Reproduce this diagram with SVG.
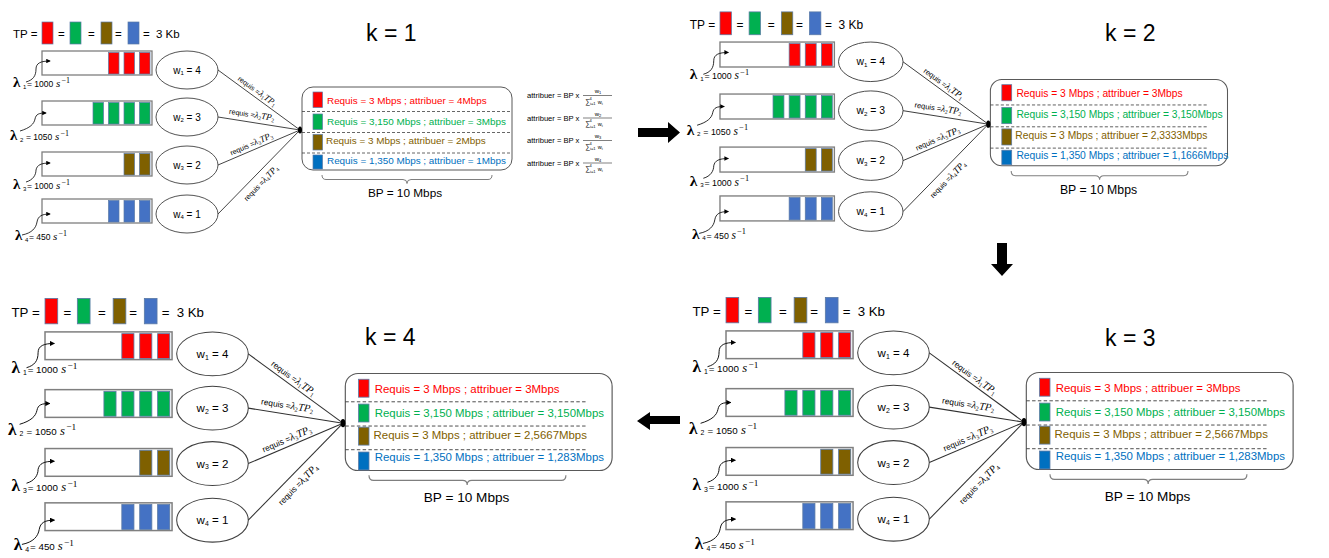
<svg xmlns="http://www.w3.org/2000/svg" width="1329" height="558" viewBox="0 0 1329 558">
<style>
.t{font-family:"Liberation Sans",Arial,sans-serif;fill:#000}
.m{font-family:"Liberation Serif","Times New Roman",serif;font-style:italic}
.mu{font-family:"Liberation Serif","Times New Roman",serif;font-style:normal}
.lam{font-family:"Liberation Serif","Times New Roman",serif;font-weight:bold;font-size:15px}
.q{fill:#fff;stroke:#7f7f7f;stroke-width:1.3}
.blk{stroke:#5b7aa6;stroke-width:0.7}
.r{fill:#FF0000}.g{fill:#00B050}.b{fill:#7F6000}.u{fill:#4472C4}.u2{fill:#0070C0}
.ell{fill:#fff;stroke:#404040;stroke-width:0.9}
.ln{stroke:#303030;stroke-width:0.9;fill:none}
.cv{stroke:#000;stroke-width:0.8;fill:none}
.box{fill:#fff;stroke:#595959;stroke-width:1}
.dash{stroke:#404040;stroke-width:0.8;stroke-dasharray:3 2}
.brace{stroke:#7f7f7f;stroke-width:1;fill:none}
.rt{font-family:"Liberation Sans",Arial,sans-serif;font-size:9.9px}
.cr{fill:#FF0000}.cg{fill:#00B050}.cb{fill:#7F6000}.cu{fill:#0070C0}
.big{font-family:"Liberation Sans",Arial,sans-serif;font-size:23px;fill:#000}
</style>
<defs>
<marker id="ah" viewBox="0 0 6 6" refX="5" refY="3" markerWidth="4.5" markerHeight="4.5" markerUnits="userSpaceOnUse" orient="auto"><path d="M0,0 L6,3 L0,6 z" fill="#000"/></marker>
</defs>

<!-- ===================== PANEL k=1 ===================== -->
<g id="p1" transform="translate(0,0) scale(1)">
 <g id="p1-legend" class="t" font-size="11.5">
  <text x="13" y="38">TP =</text>
  <rect x="42" y="22" width="11" height="22" class="r blk"/>
  <text x="58" y="38">=</text>
  <rect x="70" y="22" width="11" height="22" class="g blk"/>
  <text x="88" y="38">=</text>
  <rect x="101" y="22" width="11" height="22" class="b blk"/>
  <text x="115" y="38">=</text>
  <rect x="128" y="22" width="11" height="22" class="u blk"/>
  <text x="143" y="38">=</text><text x="156" y="38">3 Kb</text>
 </g>
 <g id="p1-q1"><rect class="q" x="42" y="51" width="110" height="24"/><rect class="r blk" x="108.5" y="52.5" width="10.5" height="21.5"/><rect class="r blk" x="124" y="52.5" width="10.5" height="21.5"/><rect class="r blk" x="139.5" y="52.5" width="10.5" height="21.5"/></g>
 <g id="p1-q2"><rect class="q" x="42" y="101" width="110" height="24"/><rect class="g blk" x="93" y="102.5" width="10.5" height="21.5"/><rect class="g blk" x="108.5" y="102.5" width="10.5" height="21.5"/><rect class="g blk" x="124" y="102.5" width="10.5" height="21.5"/><rect class="g blk" x="139.5" y="102.5" width="10.5" height="21.5"/></g>
 <g id="p1-q3"><rect class="q" x="42" y="152" width="110" height="24"/><rect class="b blk" x="124" y="153.5" width="10.5" height="21.5"/><rect class="b blk" x="139.5" y="153.5" width="10.5" height="21.5"/></g>
 <g id="p1-q4"><rect class="q" x="42" y="199" width="110" height="24"/><rect class="u blk" x="108.5" y="200.5" width="10.5" height="21.5"/><rect class="u blk" x="124" y="200.5" width="10.5" height="21.5"/><rect class="u blk" x="139.5" y="200.5" width="10.5" height="21.5"/></g>
 <g id="p1-l1"><path class="cv" d="M26 82 C33 80 36 76 36 69 C36 63 41 61 50 61" marker-end="url(#ah)"/><text class="t" y="87"><tspan x="13" class="lam">λ</tspan><tspan x="23" dy="1.5" font-size="6">1</tspan><tspan x="27" dy="-1.5" font-size="8.5">= 1000</tspan><tspan x="56" class="m" font-size="11">s</tspan><tspan x="61.5" dy="-4" class="mu" font-size="8">−1</tspan></text></g>
 <g id="p1-l2"><path class="cv" d="M20 131 C30 128 34 124 35 119 C36 114 39 113 46 113" marker-end="url(#ah)"/><text class="t" y="140"><tspan x="10" class="lam">λ</tspan><tspan x="20" dy="1.5" font-size="6">2</tspan><tspan x="26" dy="-1.5" font-size="8.5">= 1050</tspan><tspan x="55" class="m" font-size="11">s</tspan><tspan x="60.5" dy="-4" class="mu" font-size="8">−1</tspan></text></g>
 <g id="p1-l3"><path class="cv" d="M26 182 C33 180 36 175 36 170 C37 165 41 163 50 163" marker-end="url(#ah)"/><text class="t" y="189"><tspan x="13" class="lam">λ</tspan><tspan x="23" dy="1.5" font-size="6">3</tspan><tspan x="27" dy="-1.5" font-size="8.5">= 1000</tspan><tspan x="56" class="m" font-size="11">s</tspan><tspan x="61.5" dy="-4" class="mu" font-size="8">−1</tspan></text></g>
 <g id="p1-l4"><path class="cv" d="M22 235 C32 233 36 228 37 222 C38 216 42 214 50 214" marker-end="url(#ah)"/><text class="t" y="240"><tspan x="15" class="lam">λ</tspan><tspan x="25" dy="1.5" font-size="6">4</tspan><tspan x="29" dy="-1.5" font-size="8.5">= 450</tspan><tspan x="53" class="m" font-size="11">s</tspan><tspan x="58.5" dy="-4" class="mu" font-size="8">−1</tspan></text></g>
 <g id="p1-w1"><ellipse class="ell" cx="187" cy="70" rx="31" ry="19"/><text class="t" x="187" y="73.5" font-size="10" text-anchor="middle">w<tspan font-size="6" dy="1.5">1</tspan><tspan dy="-1.5"> = 4</tspan></text></g>
 <g id="p1-w2"><ellipse class="ell" cx="187" cy="117" rx="31" ry="19"/><text class="t" x="187" y="120.5" font-size="10" text-anchor="middle">w<tspan font-size="6" dy="1.5">2</tspan><tspan dy="-1.5"> = 3</tspan></text></g>
 <g id="p1-w3"><ellipse class="ell" cx="187" cy="165" rx="31" ry="19"/><text class="t" x="187" y="168.5" font-size="10" text-anchor="middle">w<tspan font-size="6" dy="1.5">3</tspan><tspan dy="-1.5">  = 2</tspan></text></g>
 <g id="p1-w4"><ellipse class="ell" cx="187" cy="214" rx="31" ry="19"/><text class="t" x="187" y="217.5" font-size="10" text-anchor="middle">w<tspan font-size="6" dy="1.5">4</tspan><tspan dy="-1.5"> = 1</tspan></text></g>
 <g id="p1-result">
  <rect class="box" x="302" y="87" width="210" height="83" rx="11"/>
  <line class="dash" x1="302" y1="111.5" x2="512" y2="111.5"/><line class="dash" x1="302" y1="132.5" x2="512" y2="132.5"/><line class="dash" x1="302" y1="153" x2="512" y2="153"/>
  <rect class="r blk" x="313" y="92" width="9.5" height="15.5"/><rect class="g blk" x="313" y="114" width="9.5" height="15.5"/><rect class="b blk" x="313" y="134.5" width="9.5" height="15.5"/><rect class="u2 blk" x="313" y="155" width="9.5" height="14"/>
  <text class="rt cr" x="327" y="104">Requis = 3 Mbps ; attribuer = 4Mbps</text>
  <text class="rt cg" x="327" y="124.5">Requis = 3,150 Mbps ; attribuer = 3Mbps</text>
  <text class="rt cb" x="326" y="144">Requis = 3 Mbps ; attribuer = 2Mbps</text>
  <text class="rt cu" x="327" y="163.5">Requis = 1,350 Mbps ; attribuer = 1Mbps</text>
  <path class="brace" d="M322 175 Q322 179.5 326 179.5 L403 179.5 Q407 179.5 407 183.5 Q407 179.5 411 179.5 L488 179.5 Q492 179.5 492 175"/>
  <text class="t" x="405" y="197" font-size="11.8" text-anchor="middle">BP = 10 Mbps</text>
 </g>
 <g id="p1-connectors">
  <line class="ln" x1="218" y1="70" x2="300" y2="130"/><line class="ln" x1="218" y1="117" x2="300" y2="130"/><line class="ln" x1="218" y1="165" x2="300" y2="130"/><line class="ln" x1="218" y1="214" x2="300" y2="130"/>
  <ellipse cx="300" cy="130" rx="2" ry="3.5" fill="#000"/>
  <text class="t" font-size="7.2" text-anchor="middle" transform="translate(253.5,96) rotate(36.2)" y="-3.5">requis =<tspan class="m" font-size="9">λ</tspan><tspan class="mu" font-size="5.5" dy="1.5">1</tspan><tspan class="m" font-size="9" dy="-1.5">TP</tspan><tspan class="mu" font-size="5.5" dy="1.5">1</tspan></text>
  <text class="t" font-size="7.2" text-anchor="middle" transform="translate(250.6,122.2) rotate(9)" y="-5">requis =<tspan class="m" font-size="9">λ</tspan><tspan class="mu" font-size="5.5" dy="1.5">2</tspan><tspan class="m" font-size="9" dy="-1.5">TP</tspan><tspan class="mu" font-size="5.5" dy="1.5">2</tspan></text>
  <text class="t" font-size="7.2" text-anchor="middle" transform="translate(253.8,149.7) rotate(-23.1)" y="-3.5">requis =<tspan class="m" font-size="9">λ</tspan><tspan class="mu" font-size="5.5" dy="1.5">3</tspan><tspan class="m" font-size="9" dy="-1.5">TP</tspan><tspan class="mu" font-size="5.5" dy="1.5">3</tspan></text>
  <text class="t" font-size="7.2" text-anchor="middle" transform="translate(254.3,176.8) rotate(-45.7)" y="12">requis =<tspan class="m" font-size="9">λ</tspan><tspan class="mu" font-size="5.5" dy="1.5">4</tspan><tspan class="m" font-size="9" dy="-1.5">TP</tspan><tspan class="mu" font-size="5.5" dy="1.5">4</tspan></text>
 </g>
 <g id="p1-formulas" class="t">
  <text x="527" y="98" font-size="7.6">attribuer = BP x</text><text x="598" y="93" font-size="6" text-anchor="middle">w<tspan font-size="4" dy="1">1</tspan></text><line x1="583" y1="95.5" x2="612" y2="95.5" stroke="#000" stroke-width="0.5"/><text x="585" y="103.5" font-size="7">∑<tspan font-size="4" dy="1.5">i=1</tspan><tspan font-size="4" dx="-6" dy="-5.5">4</tspan><tspan font-size="5.5" dx="6" dy="4">w</tspan><tspan font-size="4" dy="1">i</tspan></text>
  <text x="527" y="120.5" font-size="7.6">attribuer = BP x</text><text x="598" y="115.5" font-size="6" text-anchor="middle">w<tspan font-size="4" dy="1">2</tspan></text><line x1="583" y1="118" x2="612" y2="118" stroke="#000" stroke-width="0.5"/><text x="585" y="126" font-size="7">∑<tspan font-size="4" dy="1.5">i=1</tspan><tspan font-size="4" dx="-6" dy="-5.5">4</tspan><tspan font-size="5.5" dx="6" dy="4">w</tspan><tspan font-size="4" dy="1">i</tspan></text>
  <text x="527" y="143" font-size="7.6">attribuer = BP x</text><text x="598" y="138" font-size="6" text-anchor="middle">w<tspan font-size="4" dy="1">3</tspan></text><line x1="583" y1="140.5" x2="612" y2="140.5" stroke="#000" stroke-width="0.5"/><text x="585" y="148.5" font-size="7">∑<tspan font-size="4" dy="1.5">i=1</tspan><tspan font-size="4" dx="-6" dy="-5.5">4</tspan><tspan font-size="5.5" dx="6" dy="4">w</tspan><tspan font-size="4" dy="1">i</tspan></text>
  <text x="527" y="165.5" font-size="7.6">attribuer = BP x</text><text x="598" y="160.5" font-size="6" text-anchor="middle">w<tspan font-size="4" dy="1">4</tspan></text><line x1="583" y1="163" x2="612" y2="163" stroke="#000" stroke-width="0.5"/><text x="585" y="171" font-size="7">∑<tspan font-size="4" dy="1.5">i=1</tspan><tspan font-size="4" dx="-6" dy="-5.5">4</tspan><tspan font-size="5.5" dx="6" dy="4">w</tspan><tspan font-size="4" dy="1">i</tspan></text>
 </g>
</g>

<!-- ===================== PANEL k=2 ===================== -->
<g id="p2" transform="translate(676.3,-11) scale(1.04)">
 <g id="p2-legend" class="t" font-size="11.5">
  <text x="13" y="38">TP =</text>
  <rect x="42" y="22" width="11" height="22" class="r blk"/>
  <text x="58" y="38">=</text>
  <rect x="70" y="22" width="11" height="22" class="g blk"/>
  <text x="88" y="38">=</text>
  <rect x="101" y="22" width="11" height="22" class="b blk"/>
  <text x="115" y="38">=</text>
  <rect x="128" y="22" width="11" height="22" class="u blk"/>
  <text x="143" y="38">=</text><text x="156" y="38">3 Kb</text>
 </g>
 <g id="p2-q1"><rect class="q" x="42" y="51" width="110" height="24"/><rect class="r blk" x="108.5" y="52.5" width="10.5" height="21.5"/><rect class="r blk" x="124" y="52.5" width="10.5" height="21.5"/><rect class="r blk" x="139.5" y="52.5" width="10.5" height="21.5"/></g>
 <g id="p2-q2"><rect class="q" x="42" y="101" width="110" height="24"/><rect class="g blk" x="93" y="102.5" width="10.5" height="21.5"/><rect class="g blk" x="108.5" y="102.5" width="10.5" height="21.5"/><rect class="g blk" x="124" y="102.5" width="10.5" height="21.5"/><rect class="g blk" x="139.5" y="102.5" width="10.5" height="21.5"/></g>
 <g id="p2-q3"><rect class="q" x="42" y="152" width="110" height="24"/><rect class="b blk" x="124" y="153.5" width="10.5" height="21.5"/><rect class="b blk" x="139.5" y="153.5" width="10.5" height="21.5"/></g>
 <g id="p2-q4"><rect class="q" x="42" y="199" width="110" height="24"/><rect class="u blk" x="108.5" y="200.5" width="10.5" height="21.5"/><rect class="u blk" x="124" y="200.5" width="10.5" height="21.5"/><rect class="u blk" x="139.5" y="200.5" width="10.5" height="21.5"/></g>
 <g id="p2-l1"><path class="cv" d="M26 82 C33 80 36 76 36 69 C36 63 41 61 50 61" marker-end="url(#ah)"/><text class="t" y="87"><tspan x="13" class="lam">λ</tspan><tspan x="23" dy="1.5" font-size="6">1</tspan><tspan x="27" dy="-1.5" font-size="8.5">= 1000</tspan><tspan x="56" class="m" font-size="11">s</tspan><tspan x="61.5" dy="-4" class="mu" font-size="8">−1</tspan></text></g>
 <g id="p2-l2"><path class="cv" d="M20 131 C30 128 34 124 35 119 C36 114 39 113 46 113" marker-end="url(#ah)"/><text class="t" y="140"><tspan x="10" class="lam">λ</tspan><tspan x="20" dy="1.5" font-size="6">2</tspan><tspan x="26" dy="-1.5" font-size="8.5">= 1050</tspan><tspan x="55" class="m" font-size="11">s</tspan><tspan x="60.5" dy="-4" class="mu" font-size="8">−1</tspan></text></g>
 <g id="p2-l3"><path class="cv" d="M26 182 C33 180 36 175 36 170 C37 165 41 163 50 163" marker-end="url(#ah)"/><text class="t" y="189"><tspan x="13" class="lam">λ</tspan><tspan x="23" dy="1.5" font-size="6">3</tspan><tspan x="27" dy="-1.5" font-size="8.5">= 1000</tspan><tspan x="56" class="m" font-size="11">s</tspan><tspan x="61.5" dy="-4" class="mu" font-size="8">−1</tspan></text></g>
 <g id="p2-l4"><path class="cv" d="M22 235 C32 233 36 228 37 222 C38 216 42 214 50 214" marker-end="url(#ah)"/><text class="t" y="240"><tspan x="15" class="lam">λ</tspan><tspan x="25" dy="1.5" font-size="6">4</tspan><tspan x="29" dy="-1.5" font-size="8.5">= 450</tspan><tspan x="53" class="m" font-size="11">s</tspan><tspan x="58.5" dy="-4" class="mu" font-size="8">−1</tspan></text></g>
 <g id="p2-w1"><ellipse class="ell" cx="187" cy="70" rx="31" ry="19"/><text class="t" x="187" y="73.5" font-size="10" text-anchor="middle">w<tspan font-size="6" dy="1.5">1</tspan><tspan dy="-1.5"> = 4</tspan></text></g>
 <g id="p2-w2"><ellipse class="ell" cx="187" cy="117" rx="31" ry="19"/><text class="t" x="187" y="120.5" font-size="10" text-anchor="middle">w<tspan font-size="6" dy="1.5">2</tspan><tspan dy="-1.5"> = 3</tspan></text></g>
 <g id="p2-w3"><ellipse class="ell" cx="187" cy="165" rx="31" ry="19"/><text class="t" x="187" y="168.5" font-size="10" text-anchor="middle">w<tspan font-size="6" dy="1.5">3</tspan><tspan dy="-1.5">  = 2</tspan></text></g>
 <g id="p2-w4"><ellipse class="ell" cx="187" cy="214" rx="31" ry="19"/><text class="t" x="187" y="217.5" font-size="10" text-anchor="middle">w<tspan font-size="6" dy="1.5">4</tspan><tspan dy="-1.5"> = 1</tspan></text></g>
 <g id="p2-result">
  <rect class="box" x="302" y="87" width="228" height="83" rx="11"/>
  <line class="dash" x1="302" y1="111.5" x2="510" y2="111.5"/><line class="dash" x1="302" y1="132.5" x2="510" y2="132.5"/><line class="dash" x1="302" y1="153" x2="510" y2="153"/>
  <rect class="r blk" x="313" y="92" width="9.5" height="15.5"/><rect class="g blk" x="313" y="114" width="9.5" height="15.5"/><rect class="b blk" x="313" y="134.5" width="9.5" height="15.5"/><rect class="u2 blk" x="313" y="155" width="9.5" height="14"/>
  <text class="rt cr" x="327" y="104">Requis = 3 Mbps ; attribuer = 3Mbps</text>
  <text class="rt cg" x="327" y="124.5">Requis = 3,150 Mbps ; attribuer = 3,150Mbps</text>
  <text class="rt cb" x="326" y="144">Requis = 3 Mbps ; attribuer = 2,3333Mbps</text>
  <text class="rt cu" x="327" y="163.5">Requis = 1,350 Mbps ; attribuer = 1,1666Mbps</text>
  <path class="brace" d="M322 175 Q322 179.5 326 179.5 L403 179.5 Q407 179.5 407 183.5 Q407 179.5 411 179.5 L488 179.5 Q492 179.5 492 175"/>
  <text class="t" x="406" y="197" font-size="11.8" text-anchor="middle">BP = 10 Mbps</text>
 </g>
 <g id="p2-connectors">
  <line class="ln" x1="218" y1="70" x2="300" y2="130"/><line class="ln" x1="218" y1="117" x2="300" y2="130"/><line class="ln" x1="218" y1="165" x2="300" y2="130"/><line class="ln" x1="218" y1="214" x2="300" y2="130"/>
  <ellipse cx="300" cy="130" rx="2" ry="3.5" fill="#000"/>
  <text class="t" font-size="7.2" text-anchor="middle" transform="translate(253.5,96) rotate(36.2)" y="-3.5">requis =<tspan class="m" font-size="9">λ</tspan><tspan class="mu" font-size="5.5" dy="1.5">1</tspan><tspan class="m" font-size="9" dy="-1.5">TP</tspan><tspan class="mu" font-size="5.5" dy="1.5">1</tspan></text>
  <text class="t" font-size="7.2" text-anchor="middle" transform="translate(250.6,122.2) rotate(9)" y="-5">requis =<tspan class="m" font-size="9">λ</tspan><tspan class="mu" font-size="5.5" dy="1.5">2</tspan><tspan class="m" font-size="9" dy="-1.5">TP</tspan><tspan class="mu" font-size="5.5" dy="1.5">2</tspan></text>
  <text class="t" font-size="7.2" text-anchor="middle" transform="translate(253.8,149.7) rotate(-23.1)" y="-3.5">requis =<tspan class="m" font-size="9">λ</tspan><tspan class="mu" font-size="5.5" dy="1.5">3</tspan><tspan class="m" font-size="9" dy="-1.5">TP</tspan><tspan class="mu" font-size="5.5" dy="1.5">3</tspan></text>
  <text class="t" font-size="7.2" text-anchor="middle" transform="translate(254.3,176.8) rotate(-45.7)" y="12">requis =<tspan class="m" font-size="9">λ</tspan><tspan class="mu" font-size="5.5" dy="1.5">4</tspan><tspan class="m" font-size="9" dy="-1.5">TP</tspan><tspan class="mu" font-size="5.5" dy="1.5">4</tspan></text>
 </g>
</g>

<!-- ===================== PANEL k=4 ===================== -->
<g id="p4" transform="translate(-3.5,273) scale(1.155)">
 <g id="p4-legend" class="t" font-size="11.5">
  <text x="13" y="38">TP =</text>
  <rect x="42" y="22" width="11" height="22" class="r blk"/>
  <text x="58" y="38">=</text>
  <rect x="70" y="22" width="11" height="22" class="g blk"/>
  <text x="88" y="38">=</text>
  <rect x="101" y="22" width="11" height="22" class="b blk"/>
  <text x="115" y="38">=</text>
  <rect x="128" y="22" width="11" height="22" class="u blk"/>
  <text x="143" y="38">=</text><text x="156" y="38">3 Kb</text>
 </g>
 <g id="p4-q1"><rect class="q" x="42" y="51" width="110" height="24"/><rect class="r blk" x="108.5" y="52.5" width="10.5" height="21.5"/><rect class="r blk" x="124" y="52.5" width="10.5" height="21.5"/><rect class="r blk" x="139.5" y="52.5" width="10.5" height="21.5"/></g>
 <g id="p4-q2"><rect class="q" x="42" y="101" width="110" height="24"/><rect class="g blk" x="93" y="102.5" width="10.5" height="21.5"/><rect class="g blk" x="108.5" y="102.5" width="10.5" height="21.5"/><rect class="g blk" x="124" y="102.5" width="10.5" height="21.5"/><rect class="g blk" x="139.5" y="102.5" width="10.5" height="21.5"/></g>
 <g id="p4-q3"><rect class="q" x="42" y="152" width="110" height="24"/><rect class="b blk" x="124" y="153.5" width="10.5" height="21.5"/><rect class="b blk" x="139.5" y="153.5" width="10.5" height="21.5"/></g>
 <g id="p4-q4"><rect class="q" x="42" y="199" width="110" height="24"/><rect class="u blk" x="108.5" y="200.5" width="10.5" height="21.5"/><rect class="u blk" x="124" y="200.5" width="10.5" height="21.5"/><rect class="u blk" x="139.5" y="200.5" width="10.5" height="21.5"/></g>
 <g id="p4-l1"><path class="cv" d="M26 82 C33 80 36 76 36 69 C36 63 41 61 50 61" marker-end="url(#ah)"/><text class="t" y="87"><tspan x="13" class="lam">λ</tspan><tspan x="23" dy="1.5" font-size="6">1</tspan><tspan x="27" dy="-1.5" font-size="8.5">= 1000</tspan><tspan x="56" class="m" font-size="11">s</tspan><tspan x="61.5" dy="-4" class="mu" font-size="8">−1</tspan></text></g>
 <g id="p4-l2"><path class="cv" d="M20 131 C30 128 34 124 35 119 C36 114 39 113 46 113" marker-end="url(#ah)"/><text class="t" y="140"><tspan x="10" class="lam">λ</tspan><tspan x="20" dy="1.5" font-size="6">2</tspan><tspan x="26" dy="-1.5" font-size="8.5">= 1050</tspan><tspan x="55" class="m" font-size="11">s</tspan><tspan x="60.5" dy="-4" class="mu" font-size="8">−1</tspan></text></g>
 <g id="p4-l3"><path class="cv" d="M26 182 C33 180 36 175 36 170 C37 165 41 163 50 163" marker-end="url(#ah)"/><text class="t" y="189"><tspan x="13" class="lam">λ</tspan><tspan x="23" dy="1.5" font-size="6">3</tspan><tspan x="27" dy="-1.5" font-size="8.5">= 1000</tspan><tspan x="56" class="m" font-size="11">s</tspan><tspan x="61.5" dy="-4" class="mu" font-size="8">−1</tspan></text></g>
 <g id="p4-l4"><path class="cv" d="M22 235 C32 233 36 228 37 222 C38 216 42 214 50 214" marker-end="url(#ah)"/><text class="t" y="240"><tspan x="15" class="lam">λ</tspan><tspan x="25" dy="1.5" font-size="6">4</tspan><tspan x="29" dy="-1.5" font-size="8.5">= 450</tspan><tspan x="53" class="m" font-size="11">s</tspan><tspan x="58.5" dy="-4" class="mu" font-size="8">−1</tspan></text></g>
 <g id="p4-w1"><ellipse class="ell" cx="187" cy="70" rx="31" ry="19"/><text class="t" x="187" y="73.5" font-size="10" text-anchor="middle">w<tspan font-size="6" dy="1.5">1</tspan><tspan dy="-1.5"> = 4</tspan></text></g>
 <g id="p4-w2"><ellipse class="ell" cx="187" cy="117" rx="31" ry="19"/><text class="t" x="187" y="120.5" font-size="10" text-anchor="middle">w<tspan font-size="6" dy="1.5">2</tspan><tspan dy="-1.5"> = 3</tspan></text></g>
 <g id="p4-w3"><ellipse class="ell" cx="187" cy="165" rx="31" ry="19"/><text class="t" x="187" y="168.5" font-size="10" text-anchor="middle">w<tspan font-size="6" dy="1.5">3</tspan><tspan dy="-1.5">  = 2</tspan></text></g>
 <g id="p4-w4"><ellipse class="ell" cx="187" cy="214" rx="31" ry="19"/><text class="t" x="187" y="217.5" font-size="10" text-anchor="middle">w<tspan font-size="6" dy="1.5">4</tspan><tspan dy="-1.5"> = 1</tspan></text></g>
 <g id="p4-result">
  <rect class="box" x="302" y="87" width="231" height="84" rx="11"/>
  <line class="dash" x1="302" y1="111.5" x2="512" y2="111.5"/><line class="dash" x1="302" y1="132.5" x2="512" y2="132.5"/><line class="dash" x1="302" y1="153" x2="512" y2="153"/>
  <rect class="r blk" x="313.5" y="92" width="9" height="15.5"/><rect class="g blk" x="313.5" y="113.5" width="9" height="15.5"/><rect class="b blk" x="313.5" y="133.5" width="9" height="15.5"/><rect class="u2 blk" x="313.5" y="155" width="9" height="15.5"/>
  <text class="rt cr" x="327.5" y="104">Requis = 3 Mbps ; attribuer = 3Mbps</text>
  <text class="rt cg" x="327.5" y="124.5">Requis = 3,150 Mbps ; attribuer = 3,150Mbps</text>
  <text class="rt cb" x="326.5" y="144">Requis = 3 Mbps ; attribuer = 2,5667Mbps</text>
  <text class="rt cu" x="327.5" y="163">Requis = 1,350 Mbps ; attribuer = 1,283Mbps</text>
  <path class="brace" d="M322.5 175 Q322.5 179.5 326.5 179.5 L403.5 179.5 Q407.5 179.5 407.5 183.5 Q407.5 179.5 411.5 179.5 L489 179.5 Q493 179.5 493 175"/>
  <text class="t" x="407" y="198" font-size="11.8" text-anchor="middle">BP = 10 Mbps</text>
 </g>
 <g id="p4-connectors">
  <line class="ln" x1="218" y1="70" x2="300" y2="130"/><line class="ln" x1="218" y1="117" x2="300" y2="130"/><line class="ln" x1="218" y1="165" x2="300" y2="130"/><line class="ln" x1="218" y1="214" x2="300" y2="130"/>
  <ellipse cx="300" cy="130" rx="2" ry="3.5" fill="#000"/>
  <text class="t" font-size="7.2" text-anchor="middle" transform="translate(253.5,96) rotate(36.2)" y="-3.5">requis =<tspan class="m" font-size="9">λ</tspan><tspan class="mu" font-size="5.5" dy="1.5">1</tspan><tspan class="m" font-size="9" dy="-1.5">TP</tspan><tspan class="mu" font-size="5.5" dy="1.5">1</tspan></text>
  <text class="t" font-size="7.2" text-anchor="middle" transform="translate(250.6,122.2) rotate(9)" y="-5">requis =<tspan class="m" font-size="9">λ</tspan><tspan class="mu" font-size="5.5" dy="1.5">2</tspan><tspan class="m" font-size="9" dy="-1.5">TP</tspan><tspan class="mu" font-size="5.5" dy="1.5">2</tspan></text>
  <text class="t" font-size="7.2" text-anchor="middle" transform="translate(253.8,149.7) rotate(-23.1)" y="-3.5">requis =<tspan class="m" font-size="9">λ</tspan><tspan class="mu" font-size="5.5" dy="1.5">3</tspan><tspan class="m" font-size="9" dy="-1.5">TP</tspan><tspan class="mu" font-size="5.5" dy="1.5">3</tspan></text>
  <text class="t" font-size="7.2" text-anchor="middle" transform="translate(254.3,176.8) rotate(-45.7)" y="12">requis =<tspan class="m" font-size="9">λ</tspan><tspan class="mu" font-size="5.5" dy="1.5">4</tspan><tspan class="m" font-size="9" dy="-1.5">TP</tspan><tspan class="mu" font-size="5.5" dy="1.5">4</tspan></text>
 </g>
</g>

<!-- ===================== PANEL k=3 ===================== -->
<g id="p3" transform="translate(677.5,272) scale(1.155)">
 <g id="p3-legend" class="t" font-size="11.5">
  <text x="13" y="38">TP =</text>
  <rect x="42" y="22" width="11" height="22" class="r blk"/>
  <text x="58" y="38">=</text>
  <rect x="70" y="22" width="11" height="22" class="g blk"/>
  <text x="88" y="38">=</text>
  <rect x="101" y="22" width="11" height="22" class="b blk"/>
  <text x="115" y="38">=</text>
  <rect x="128" y="22" width="11" height="22" class="u blk"/>
  <text x="143" y="38">=</text><text x="156" y="38">3 Kb</text>
 </g>
 <g id="p3-q1"><rect class="q" x="42" y="51" width="110" height="24"/><rect class="r blk" x="108.5" y="52.5" width="10.5" height="21.5"/><rect class="r blk" x="124" y="52.5" width="10.5" height="21.5"/><rect class="r blk" x="139.5" y="52.5" width="10.5" height="21.5"/></g>
 <g id="p3-q2"><rect class="q" x="42" y="101" width="110" height="24"/><rect class="g blk" x="93" y="102.5" width="10.5" height="21.5"/><rect class="g blk" x="108.5" y="102.5" width="10.5" height="21.5"/><rect class="g blk" x="124" y="102.5" width="10.5" height="21.5"/><rect class="g blk" x="139.5" y="102.5" width="10.5" height="21.5"/></g>
 <g id="p3-q3"><rect class="q" x="42" y="152" width="110" height="24"/><rect class="b blk" x="124" y="153.5" width="10.5" height="21.5"/><rect class="b blk" x="139.5" y="153.5" width="10.5" height="21.5"/></g>
 <g id="p3-q4"><rect class="q" x="42" y="199" width="110" height="24"/><rect class="u blk" x="108.5" y="200.5" width="10.5" height="21.5"/><rect class="u blk" x="124" y="200.5" width="10.5" height="21.5"/><rect class="u blk" x="139.5" y="200.5" width="10.5" height="21.5"/></g>
 <g id="p3-l1"><path class="cv" d="M26 82 C33 80 36 76 36 69 C36 63 41 61 50 61" marker-end="url(#ah)"/><text class="t" y="87"><tspan x="13" class="lam">λ</tspan><tspan x="23" dy="1.5" font-size="6">1</tspan><tspan x="27" dy="-1.5" font-size="8.5">= 1000</tspan><tspan x="56" class="m" font-size="11">s</tspan><tspan x="61.5" dy="-4" class="mu" font-size="8">−1</tspan></text></g>
 <g id="p3-l2"><path class="cv" d="M20 131 C30 128 34 124 35 119 C36 114 39 113 46 113" marker-end="url(#ah)"/><text class="t" y="140"><tspan x="10" class="lam">λ</tspan><tspan x="20" dy="1.5" font-size="6">2</tspan><tspan x="26" dy="-1.5" font-size="8.5">= 1050</tspan><tspan x="55" class="m" font-size="11">s</tspan><tspan x="60.5" dy="-4" class="mu" font-size="8">−1</tspan></text></g>
 <g id="p3-l3"><path class="cv" d="M26 182 C33 180 36 175 36 170 C37 165 41 163 50 163" marker-end="url(#ah)"/><text class="t" y="189"><tspan x="13" class="lam">λ</tspan><tspan x="23" dy="1.5" font-size="6">3</tspan><tspan x="27" dy="-1.5" font-size="8.5">= 1000</tspan><tspan x="56" class="m" font-size="11">s</tspan><tspan x="61.5" dy="-4" class="mu" font-size="8">−1</tspan></text></g>
 <g id="p3-l4"><path class="cv" d="M22 235 C32 233 36 228 37 222 C38 216 42 214 50 214" marker-end="url(#ah)"/><text class="t" y="240"><tspan x="15" class="lam">λ</tspan><tspan x="25" dy="1.5" font-size="6">4</tspan><tspan x="29" dy="-1.5" font-size="8.5">= 450</tspan><tspan x="53" class="m" font-size="11">s</tspan><tspan x="58.5" dy="-4" class="mu" font-size="8">−1</tspan></text></g>
 <g id="p3-w1"><ellipse class="ell" cx="187" cy="70" rx="31" ry="19"/><text class="t" x="187" y="73.5" font-size="10" text-anchor="middle">w<tspan font-size="6" dy="1.5">1</tspan><tspan dy="-1.5"> = 4</tspan></text></g>
 <g id="p3-w2"><ellipse class="ell" cx="187" cy="117" rx="31" ry="19"/><text class="t" x="187" y="120.5" font-size="10" text-anchor="middle">w<tspan font-size="6" dy="1.5">2</tspan><tspan dy="-1.5"> = 3</tspan></text></g>
 <g id="p3-w3"><ellipse class="ell" cx="187" cy="165" rx="31" ry="19"/><text class="t" x="187" y="168.5" font-size="10" text-anchor="middle">w<tspan font-size="6" dy="1.5">3</tspan><tspan dy="-1.5">  = 2</tspan></text></g>
 <g id="p3-w4"><ellipse class="ell" cx="187" cy="214" rx="31" ry="19"/><text class="t" x="187" y="217.5" font-size="10" text-anchor="middle">w<tspan font-size="6" dy="1.5">4</tspan><tspan dy="-1.5"> = 1</tspan></text></g>
 <g id="p3-result">
  <rect class="box" x="302" y="87" width="231" height="84" rx="11"/>
  <line class="dash" x1="302" y1="111.5" x2="512" y2="111.5"/><line class="dash" x1="302" y1="132.5" x2="512" y2="132.5"/><line class="dash" x1="302" y1="153" x2="512" y2="153"/>
  <rect class="r blk" x="313.5" y="92" width="9" height="15.5"/><rect class="g blk" x="313.5" y="113.5" width="9" height="15.5"/><rect class="b blk" x="313.5" y="133.5" width="9" height="15.5"/><rect class="u2 blk" x="313.5" y="155" width="9" height="15.5"/>
  <text class="rt cr" x="327.5" y="104">Requis = 3 Mbps ; attribuer = 3Mbps</text>
  <text class="rt cg" x="327.5" y="124.5">Requis = 3,150 Mbps ; attribuer = 3,150Mbps</text>
  <text class="rt cb" x="326.5" y="144">Requis = 3 Mbps ; attribuer = 2,5667Mbps</text>
  <text class="rt cu" x="327.5" y="163">Requis = 1,350 Mbps ; attribuer = 1,283Mbps</text>
  <path class="brace" d="M322.5 175 Q322.5 179.5 326.5 179.5 L403.5 179.5 Q407.5 179.5 407.5 183.5 Q407.5 179.5 411.5 179.5 L489 179.5 Q493 179.5 493 175"/>
  <text class="t" x="407" y="198" font-size="11.8" text-anchor="middle">BP = 10 Mbps</text>
 </g>
 <g id="p3-connectors">
  <line class="ln" x1="218" y1="70" x2="300" y2="130"/><line class="ln" x1="218" y1="117" x2="300" y2="130"/><line class="ln" x1="218" y1="165" x2="300" y2="130"/><line class="ln" x1="218" y1="214" x2="300" y2="130"/>
  <ellipse cx="300" cy="130" rx="2" ry="3.5" fill="#000"/>
  <text class="t" font-size="7.2" text-anchor="middle" transform="translate(253.5,96) rotate(36.2)" y="-3.5">requis =<tspan class="m" font-size="9">λ</tspan><tspan class="mu" font-size="5.5" dy="1.5">1</tspan><tspan class="m" font-size="9" dy="-1.5">TP</tspan><tspan class="mu" font-size="5.5" dy="1.5">1</tspan></text>
  <text class="t" font-size="7.2" text-anchor="middle" transform="translate(250.6,122.2) rotate(9)" y="-5">requis =<tspan class="m" font-size="9">λ</tspan><tspan class="mu" font-size="5.5" dy="1.5">2</tspan><tspan class="m" font-size="9" dy="-1.5">TP</tspan><tspan class="mu" font-size="5.5" dy="1.5">2</tspan></text>
  <text class="t" font-size="7.2" text-anchor="middle" transform="translate(253.8,149.7) rotate(-23.1)" y="-3.5">requis =<tspan class="m" font-size="9">λ</tspan><tspan class="mu" font-size="5.5" dy="1.5">3</tspan><tspan class="m" font-size="9" dy="-1.5">TP</tspan><tspan class="mu" font-size="5.5" dy="1.5">3</tspan></text>
  <text class="t" font-size="7.2" text-anchor="middle" transform="translate(254.3,176.8) rotate(-45.7)" y="12">requis =<tspan class="m" font-size="9">λ</tspan><tspan class="mu" font-size="5.5" dy="1.5">4</tspan><tspan class="m" font-size="9" dy="-1.5">TP</tspan><tspan class="mu" font-size="5.5" dy="1.5">4</tspan></text>
 </g>
</g>

<!-- ===================== titles & step arrows ===================== -->
<g id="titles">
 <text class="big" x="366" y="41">k = 1</text>
 <text class="big" x="1105" y="41">k = 2</text>
 <text class="big" x="365" y="345">k = 4</text>
 <text class="big" x="1105" y="346">k = 3</text>
</g>
<g id="step-arrows" fill="#000">
 <polygon id="arrow-right" points="638,128 668,128 668,122 680,132.5 668,143 668,137 638,137"/>
 <polygon id="arrow-down" points="997,243 1007,243 1007,264 1013,264 1002,276 991,264 997,264"/>
 <polygon id="arrow-left" points="680,416 650,416 650,412 637,421 650,430 650,424 680,424"/>
</g>
</svg>
